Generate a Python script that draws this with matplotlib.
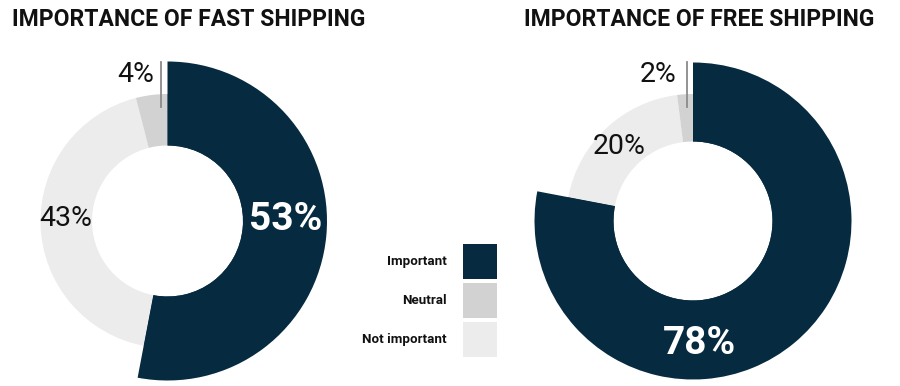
import matplotlib
matplotlib.use("Agg")
import matplotlib.pyplot as plt

# ---- data ----
categories = ["Important", "Not important", "Neutral"]
fast_values = [53, 43, 4]
free_values = [78, 20, 2]
titles = ["IMPORTANCE OF FAST SHIPPING", "IMPORTANCE OF FREE SHIPPING"]
legend_labels = ["Important", "Neutral", "Not important"]

# ---- style ----
DARK = "#062a40"
NEUTRAL = "#d2d2d2"
NOTIMP = "#ececec"
colors = {"Important": DARK, "Neutral": NEUTRAL, "Not important": NOTIMP}
FONT = "Roboto"

W, H = 900, 386
fig = plt.figure(figsize=(W / 100, H / 100), dpi=100)
ax = fig.add_axes([0, 0, 1, 1])


def donut(values, cx, cy, r_big, r_small, r_in):
    cols = [colors[c] for c in categories]
    ax.pie(values, colors=cols, startangle=90, counterclock=False,
           center=(cx, cy), radius=r_small,
           wedgeprops=dict(width=r_small - r_in, linewidth=0))
    big_cols = [DARK, "none", "none"]
    ax.pie(values, colors=big_cols, startangle=90, counterclock=False,
           center=(cx, cy), radius=r_big,
           wedgeprops=dict(width=r_big - r_in, linewidth=0))


cy = H - 221
donut(fast_values, 167.5, cy, 159.5, 127, 75.5)
donut(free_values, 693, cy, 158.5, 127, 79.5)

# titles
ax.text(12, H - 20, titles[0], fontsize=16.5, fontweight="bold", family=FONT,
        ha="left", va="center", color="#111111")
ax.text(524, H - 20, titles[1], fontsize=16.5, fontweight="bold", family=FONT,
        ha="left", va="center", color="#111111")

# value labels
lab_kw = dict(family=FONT, ha="center", va="center", color="#111111", fontsize=20.5)
big_kw = dict(family=FONT, ha="center", va="center", color="white",
              fontsize=28, fontweight="bold")
ax.text(136, H - 74, f"{fast_values[2]}%", **lab_kw)
ax.text(66, H - 219, f"{fast_values[1]}%", **lab_kw)
ax.text(286, H - 219, f"{fast_values[0]}%", **big_kw)
ax.plot([161, 161], [H - 62, H - 107], color="#8a8a8a", lw=1.3)

ax.text(658, H - 74, f"{free_values[2]}%", **lab_kw)
ax.text(619, H - 147, f"{free_values[1]}%", **lab_kw)
ax.text(699, H - 343, f"{free_values[0]}%", **big_kw)
ax.plot([687, 687], [H - 62, H - 107], color="#8a8a8a", lw=1.3)

# legend
sq_y = [261, 300, 339]
for lab, y in zip(legend_labels, sq_y):
    ax.add_patch(plt.Rectangle((463, H - y - 17.5), 34, 35, color=colors[lab], lw=0))
    ax.text(447, H - y, lab, family=FONT, fontweight="bold", fontsize=9.6,
            ha="right", va="center", color="#111111")

ax.set_xlim(0, W)
ax.set_ylim(0, H)
ax.set_aspect("auto")
ax.axis("off")
fig.savefig("out.png", dpi=100)
